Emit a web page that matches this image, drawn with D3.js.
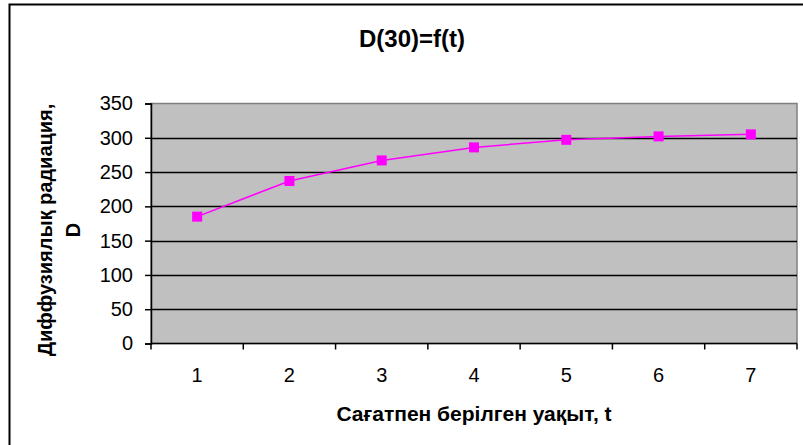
<!DOCTYPE html>
<html>
<head>
<meta charset="utf-8">
<script src="https://cdn.jsdelivr.net/npm/d3@7"></script>
<style>
  html, body { margin: 0; padding: 0; background: #fff; }
  svg { display: block; }
  text { font-family: "Liberation Sans", Arial, sans-serif; fill: #000; }
</style>
</head>
<body>
<svg id="chart" width="803" height="445"></svg>
<script>
// Hours of the day and the diffuse radiation measured at each
const categories = ["1", "2", "3", "4", "5", "6", "7"];
const values = [185, 237, 267, 286, 297, 302, 305];
const yTicks = [0, 50, 100, 150, 200, 250, 300, 350];

const titleText = "D(30)=f(t)";
const xTitle = "Сағатпен берілген уақыт, t";
const yTitleLines = ["Диффузиялық радиация,", "D"];

const svg = d3.select("#chart");
const plot = { left: 151, top: 103.5, right: 797, bottom: 343.5 };

// Outer chart frame
svg.append("rect")
  .attr("x", 9.5).attr("y", 4.5)
  .attr("width", 803).attr("height", 450)
  .attr("fill", "#fff").attr("stroke", "#000").attr("stroke-width", 2);

const x = d3.scaleBand().domain(categories).range([plot.left, plot.right]).paddingInner(0).paddingOuter(0);
const y = d3.scaleLinear().domain([0, 350]).range([plot.bottom, plot.top]);

// Plot area
svg.append("rect")
  .attr("x", plot.left).attr("y", plot.top)
  .attr("width", plot.right - plot.left).attr("height", plot.bottom - plot.top)
  .attr("fill", "#c0c0c0").attr("stroke", "#808080").attr("stroke-width", 1.5);

// Horizontal gridlines
svg.append("g").selectAll("line")
  .data(yTicks.filter(d => d > 0 && d < 350))
  .join("line")
  .attr("x1", plot.left).attr("x2", plot.right)
  .attr("y1", d => Math.round(y(d)) + 0.5).attr("y2", d => Math.round(y(d)) + 0.5)
  .attr("stroke", "#000").attr("stroke-width", 1.5);

// Y axis
const yAxis = d3.axisLeft(y).tickValues(yTicks).tickSize(6).tickPadding(12).tickFormat(d3.format("d"));
const gy = svg.append("g").attr("transform", `translate(${plot.left},0)`).call(yAxis);
gy.select(".domain").attr("stroke", "#000").attr("stroke-width", 1.5);
gy.selectAll(".tick line").attr("stroke", "#000").attr("stroke-width", 1.5);
gy.selectAll(".tick text").attr("font-size", 20).attr("font-family", "Liberation Sans, Arial, sans-serif").attr("fill", "#000");

// X axis: ticks between categories, labels centered in each band
const boundaries = categories.map(c => x(c)).concat([plot.right]);
const gx = svg.append("g");
gx.append("line")
  .attr("x1", plot.left).attr("x2", plot.right)
  .attr("y1", plot.bottom).attr("y2", plot.bottom)
  .attr("stroke", "#000").attr("stroke-width", 1.5);
gx.selectAll("line.tk").data(boundaries).join("line").attr("class", "tk")
  .attr("x1", d => d).attr("x2", d => d)
  .attr("y1", plot.bottom).attr("y2", plot.bottom + 6)
  .attr("stroke", "#000").attr("stroke-width", 1.5);
gx.selectAll("text").data(categories).join("text")
  .attr("x", d => x(d) + x.bandwidth() / 2)
  .attr("y", 382)
  .attr("text-anchor", "middle")
  .attr("font-size", 20)
  .text(d => d);

// Data line and square markers
const line = d3.line()
  .x((d, i) => x(categories[i]) + x.bandwidth() / 2)
  .y(d => y(d));
svg.append("path")
  .datum(values)
  .attr("d", line)
  .attr("fill", "none").attr("stroke", "#ff00ff").attr("stroke-width", 1.5);
svg.append("g").selectAll("rect")
  .data(values)
  .join("rect")
  .attr("x", (d, i) => x(categories[i]) + x.bandwidth() / 2 - 5)
  .attr("y", d => y(d) - 5)
  .attr("width", 10).attr("height", 10)
  .attr("fill", "#ff00ff");

// Titles
svg.append("text")
  .attr("x", 412).attr("y", 47)
  .attr("text-anchor", "middle")
  .attr("font-size", 24).attr("font-weight", "bold")
  .text(titleText);

svg.append("text")
  .attr("x", 474).attr("y", 421)
  .attr("text-anchor", "middle")
  .attr("font-size", 21).attr("font-weight", "bold")
  .text(xTitle);

const yt = svg.append("text")
  .attr("transform", "translate(52,230) rotate(-90)")
  .attr("text-anchor", "middle")
  .attr("font-size", 20).attr("font-weight", "bold");
yt.selectAll("tspan").data(yTitleLines).join("tspan")
  .attr("x", 0)
  .attr("dy", (d, i) => i === 0 ? 0 : 28)
  .text(d => d);
</script>
</body>
</html>
